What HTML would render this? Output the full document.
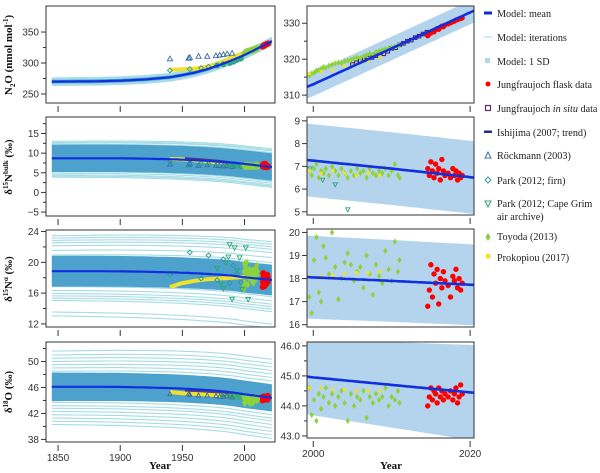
<!DOCTYPE html>
<html><head><meta charset="utf-8">
<style>
body{margin:0;background:#fff;width:600px;height:473px;overflow:hidden}
svg{display:block}
.tk{font-family:"Liberation Sans",sans-serif;font-size:10px;fill:#333}
.ttl{font-family:"Liberation Serif",serif;font-weight:bold;font-size:11px;fill:#111}
.lg{font-family:"Liberation Serif",serif;font-size:10.2px;fill:#222}
</style></head>
<body>
<svg id="fig" width="600" height="473">
<g id="legend">
 <g><rect x="484" y="11.5" width="8" height="3" fill="#1030e0"/><text class="lg" x="497" y="17">Model: mean</text></g>
 <g><rect x="484" y="36.5" width="8" height="1" fill="#9fdbe3"/><text class="lg" x="497" y="41">Model: iterations</text></g>
 <g><rect x="485" y="58" width="5" height="5" fill="#b3d4ec"/><text class="lg" x="497" y="65">Model: 1 SD</text></g>
 <g><circle cx="488" cy="84" r="2.5" fill="#f00"/><text class="lg" x="497" y="88">Jungfraujoch flask data</text></g>
 <g><rect x="485.5" y="105.5" width="5" height="5" fill="none" stroke="#5a2a6e" stroke-width="1.2"/><text class="lg" x="497" y="112">Jungfraujoch <tspan font-style="italic">in situ</tspan> data</text></g>
 <g><rect x="484" y="130.5" width="8" height="2.5" fill="#2a2a8a"/><text class="lg" x="497" y="136">Ishijima (2007; trend)</text></g>
 <g><path d="M488 152 L491 158 L485 158Z" fill="none" stroke="#3a6ea0" stroke-width="1"/><text class="lg" x="497" y="159">Röckmann (2003)</text></g>
 <g><path d="M488 177 L491 180 L488 183 L485 180Z" fill="none" stroke="#2a9a9a" stroke-width="1"/><text class="lg" x="497" y="184">Park (2012; firn)</text></g>
 <g><path d="M485 201 L491 201 L488 207Z" fill="none" stroke="#2aa870" stroke-width="1"/><text class="lg" x="497" y="207">Park (2012; Cape Grim</text><text class="lg" x="497" y="220">air archive)</text></g>
 <g><path d="M488 233 L490.5 237 L488 241 L485.5 237Z" fill="#8cd23c"/><text class="lg" x="497" y="240">Toyoda (2013)</text></g>
 <g><rect x="486" y="254" width="4.5" height="4.5" fill="#f2e12a"/><text class="lg" x="497" y="261">Prokopiou (2017)</text></g>
</g>
</svg>
<script>
// ---- data ----
const meanYears=[1845,1880,1900,1920,1940,1950,1960,1970,1980,1990,2000,2010,2022];
const n2oMean=[270,270.5,271.5,273.5,277,280.5,284.5,290,297,304.5,313,323,335];
const bulkMean=[8.7,8.7,8.68,8.6,8.45,8.35,8.2,8.05,7.85,7.6,7.25,6.9,6.45];
const alphaMean=[18.85,18.85,18.83,18.78,18.7,18.65,18.58,18.5,18.4,18.28,18.05,17.9,17.7];
const o18Mean=[46.1,46.1,46.08,46.0,45.9,45.82,45.72,45.6,45.45,45.25,44.95,44.7,44.4];
const n2oIter=[-6,-5,-4,-3,-2,-1,0,1,2,3,4,5,6];
const bulkIter=[-4.8,-4.5,-4.2,-3.8,-3.4,-2.9,-2.4,-1.8,-1.2,-0.6,0.6,1.2,1.8,2.4,2.9,3.4,3.8,4.0,4.3];
const alphaIter=[-5.8,-5.3,-3.8,-3.5,-3.2,-2.9,-2.5,-2,-1.2,1.5,2.1,2.7,3.3,3.7,4.0,4.3,4.6];
const o18Iter=[-5.8,-5.3,-4.8,-4.3,-3.8,-3.3,-2.9,-2.4,2.4,2.9,3.4,3.9,4.4,4.9,5.5];
const n2oSD=[3,3];const bulkSD=[3.5,3.5];const alphaSD=[2,2];const o18SD=[2.2,2.1];
const bulkSDr=[1.6,1.6];const alphaSDr=[1.8,1.75];const o18SDr=[1.25,1.6];
// Röckmann firn
const rockYears=[1940,1955,1956,1963,1970,1977,1980,1983,1986,1990];
const rockN2O=[307,308,309,311,311,312,313,314,315,316];
const rockBulk=[7.2,7.0,7.4,6.9,7.0,6.9,6.8,6.7,6.8,6.6];
const rockO18=[45.0,45.0,44.9,44.8,44.8,44.7,44.6,44.6,44.7,44.5];
// Park firn
const firnYears=[1940,1956,1965,1971,1978,1983,1988,1991,1994,1997];
const firnN2O=[288,290,292,294,296,298,300,302,305,307];
const firnAlpha=[18.4,21.3,17.9,20.9,17.7,20.4,17.3,19.6,18.5,17.4];
const firnBulk=[7.8,7.6,7.4,7.3,7.2,7.0,6.9,6.8,6.7,6.6];
// Cape Grim
const cgYears=[1978,1981,1983,1985,1987,1988,1990,1992,1994,1996,1998,2001,2003];
const cgAlpha=[19.2,17.2,16.6,19.9,20.7,22.3,15.2,21.9,18.9,20.6,16.5,21.9,15.2];
const cgBulk=[6.9,6.8,6.5,6.6,6.4,6.3,6.2,6.4,6.1,6.5,6.0,5.8,4.7];
// Toyoda (right panels, years 1999-2011)
const toyYears=[1999.5,1999.8,2000.1,2000.4,2000.7,2001.0,2001.3,2001.6,2002.0,2002.4,2002.8,2003.2,2003.6,2004.0,2004.4,2004.8,2005.2,2005.6,2006.0,2006.4,2006.8,2007.2,2007.6,2008.0,2008.4,2008.8,2009.2,2009.6,2010.0,2010.4,2010.8,2011.0];
const toyBulk=[6.8,6.6,6.9,7.1,6.5,6.8,6.7,6.9,6.6,7.0,6.8,6.6,6.9,6.7,6.5,6.8,6.6,6.9,6.7,6.8,6.5,6.9,6.7,6.6,6.8,6.7,6.9,6.6,6.8,7.1,6.6,6.5];
const toyAlpha=[17.2,16.5,18.8,19.8,17.4,17.0,19.4,18.9,18.2,20.0,18.5,17.1,18.0,18.7,19.1,18.6,17.9,18.3,18.5,17.6,19.0,18.2,17.3,18.6,18.1,17.8,19.2,18.4,17.9,19.6,18.3,18.8];
const toyO18=[44.6,43.7,44.2,43.5,44.4,43.9,44.3,44.6,44.1,44.4,44.0,44.3,44.5,44.1,43.5,44.4,44.0,44.3,44.2,44.5,43.6,44.3,44.1,44.4,44.2,44.3,44.6,44.0,44.3,44.2,44.5,44.1];
const toyN2O=[315.5,316,316.2,316.8,317,317.3,317.8,317.6,318.2,318.5,318.8,319,318.9,319.4,319.6,319.8,320.2,320.5,320.3,320.8,321.2,321.5,321.3,322,322.2,322.6,322.8,323,323.2,323.5,323.8,324];
// Jungfraujoch flask (2014-2019)
const flaskYears=[2014.6,2014.8,2015.0,2015.2,2015.4,2015.6,2015.8,2016.0,2016.2,2016.4,2016.6,2016.8,2017.2,2017.5,2017.8,2018.0,2018.2,2018.4,2018.6,2018.8,2019.0];
const flaskN2O=[326.5,327,327.3,327.8,327.6,328.2,328.5,328.3,328.9,329.2,329.0,329.5,329.8,330.1,330.4,330.6,330.9,331,331.2,331.3,331.5];
const flaskBulk=[6.9,6.6,7.2,6.8,6.5,7.1,6.7,6.9,6.4,7.3,6.8,6.6,6.7,6.5,6.9,6.6,6.8,6.4,6.7,6.5,6.6];
const flaskAlpha=[16.8,17.5,18.6,17.2,18.2,17.8,18.4,16.9,18.0,17.6,18.3,17.9,17.7,17.2,18.1,17.9,18.4,17.6,18.0,17.5,17.8];
const flaskO18=[44.0,44.3,44.6,44.2,44.5,44.4,44.1,44.6,44.3,44.5,44.2,44.4,44.3,44.5,44.2,44.4,44.6,44.1,44.3,44.7,44.4];
// Jungfraujoch in situ (2005-2014)
const insituYears=[2005,2005.5,2006,2006.5,2007,2007.5,2008,2008.5,2009,2009.5,2010,2010.5,2011,2011.5,2012,2012.5,2013,2013.5,2014,2014.5];
const insituN2O=[318.5,319,319.5,319.8,320.3,320.5,321,321.8,321.5,322.2,323,323.2,324,324.4,325,325.3,326,326.4,327,327.5];
// Prokopiou (1940-2008)
const prokYears=[1940,1950,1960,1970,1980,1990,1999.5,2001,2002.5,2004,2005.5,2007,2008.5];
const prokN2O=[289,290,291,294,300,309,316,316.5,317,318,318.5,319.5,320.5];
const prokBulk=[8.5,8.4,8.2,7.9,7.6,7.2,6.8,6.7,6.8,6.7,6.6,6.7,6.6];
const prokAlpha=[16.8,17.3,17.6,17.8,17.9,18.0,18.1,18.1,18.15,18.2,18.25,18.25,18.3];
const prokO18=[45.3,45.1,45.0,44.9,44.8,44.7,44.6,44.6,44.55,44.55,44.5,44.5,44.5];
// Ishijima trend
const ishYears=[1952,1965,1980,1990,2000];
const ishBulk=[8.6,8.3,7.9,7.5,7.1];
const ishO18=[45.6,45.5,45.3,45.1,44.9];

// ---- drawing ----
const NS="http://www.w3.org/2000/svg";
const svg=document.getElementById('fig');
function el(tag,attrs,parent){const e=document.createElementNS(NS,tag);for(const k in attrs)e.setAttribute(k,attrs[k]);(parent||svg).appendChild(e);return e;}
function interp(xs,ys,x){if(x<=xs[0])return ys[0]+(ys[1]-ys[0])*(x-xs[0])/(xs[1]-xs[0]);for(let i=1;i<xs.length;i++){if(x<=xs[i])return ys[i-1]+(ys[i]-ys[i-1])*(x-xs[i-1])/(xs[i]-xs[i-1]);}const n=xs.length;return ys[n-1]+(ys[n-1]-ys[n-2])*(x-xs[n-1])/(xs[n-1]-xs[n-2]);}
let clipId=0;
function panel(name,box,xd,yd,ticks,minor){
  const [x0,y0,x1,y1]=box;
  const sx=v=>x0+(v-xd[0])/(xd[1]-xd[0])*(x1-x0);
  const sy=v=>y1-(v-yd[0])/(yd[1]-yd[0])*(y1-y0);
  const g=el('g',{});
  
  
  const cid='c'+(clipId++);
  const cp=el('clipPath',{id:cid},g);el('rect',{x:x0,y:y0,width:x1-x0,height:y1-y0},cp);
  const plot=el('g',{'clip-path':'url(#'+cid+')'},g);
  
  
  return {g,plot,sx,sy,box,ticks,minor,xd,yd};
}
function frame(P,xticks,xlabels){
  const [x0,y0,x1,y1]=P.box;const g=P.g;
  el('rect',{x:x0,y:y0,width:x1-x0,height:y1-y0,fill:'none',stroke:'#333','stroke-width':1},g);
  P.minor.forEach(v=>{const y=P.sy(v);el('line',{x1:x0-3,x2:x0,y1:y,y2:y,stroke:'#333'},g);});
  P.ticks.forEach(t=>{const y=P.sy(t[0]);el('line',{x1:x0-5,x2:x0,y1:y,y2:y,stroke:'#333'},g);const tx=el('text',{x:x0-7,y:y+3.5,'text-anchor':'end',class:'tk'},g);tx.textContent=t[1];
    });
  xticks.forEach((v,i)=>{const x=P.sx(v);el('line',{x1:x,x2:x,y1:y1+3,y2:y1+9,stroke:'#333'},g);if(xlabels){const tx=el('text',{x:x,y:y1+19,'text-anchor':'middle',class:'tk'},g);tx.textContent=xlabels[i];}});
}
function curve(P,fn,xa,xb,attrs){let d='';for(let x=xa;x<=xb+0.01;x+=(xb-xa)/60){d+=(d?'L':'M')+P.sx(x).toFixed(1)+' '+P.sy(fn(x)).toFixed(1);}return el('path',Object.assign({d,fill:'none'},attrs),P.plot);}
function band(P,fn,sdArr,xa,xb,fill){let up='',dn=[];const N=60;for(let i=0;i<=N;i++){const x=xa+(xb-xa)*i/N;const t=i/N;const s=sdArr[0]+(sdArr[1]-sdArr[0])*t;up+=(up?'L':'M')+P.sx(x).toFixed(1)+' '+P.sy(fn(x)+s).toFixed(1);dn.push(P.sx(x).toFixed(1)+' '+P.sy(fn(x)-s).toFixed(1));}
  return el('path',{d:up+'L'+dn.reverse().join('L')+'Z',fill:fill},P.plot);}
function mk(P,type,xs,ys,color,sz){xs.forEach((x,i)=>{const cx=P.sx(x),cy=P.sy(ys[i]);let e;const s=sz||2.6;
  if(type==='tri')e=el('path',{d:`M${cx} ${cy-s} L${cx+s} ${cy+s*0.8} L${cx-s} ${cy+s*0.8}Z`,fill:'none',stroke:color,'stroke-width':0.9},P.plot);
  else if(type==='dtri')e=el('path',{d:`M${cx-s} ${cy-s*0.8} L${cx+s} ${cy-s*0.8} L${cx} ${cy+s}Z`,fill:'none',stroke:color,'stroke-width':0.9},P.plot);
  else if(type==='dia')e=el('path',{d:`M${cx} ${cy-s} L${cx+s} ${cy} L${cx} ${cy+s} L${cx-s} ${cy}Z`,fill:'none',stroke:color,'stroke-width':0.9},P.plot);
  else if(type==='fdia')e=el('path',{d:`M${cx} ${cy-s*1.3} L${cx+s*0.9} ${cy} L${cx} ${cy+s*1.3} L${cx-s*0.9} ${cy}Z`,fill:color},P.plot);
  else if(type==='sq')e=el('rect',{x:cx-s,y:cy-s,width:2*s,height:2*s,fill:'none',stroke:color,'stroke-width':1},P.plot);
  else if(type==='fsq')e=el('rect',{x:cx-s,y:cy-s,width:2*s,height:2*s,fill:color},P.plot);
  else e=el('circle',{cx,cy,r:s,fill:color},P.plot);
  
  
});}
function poly(P,xs,ys,attrs){let d='';xs.forEach((x,i)=>{d+=(i?'L':'M')+P.sx(x).toFixed(1)+' '+P.sy(ys[i]).toFixed(1);});return el('path',Object.assign({d,fill:'none'},attrs),P.plot);}

const LX=[1840.3,2024.5], RX=[1999.2,2020.5];
const leftX=[1850,1900,1950,2000], rightX=[2000,2020];
const cfgs=[
 {mean:n2oMean,iter:n2oIter,sd:n2oSD,sdr:[3.3,3.3],
  L:[[46,6,275,103],[235.5,392],[[250,'250'],[300,'300'],[350,'350']],[275,325]],
  R:[[307,6,474,103],[307.8,334.8],[[310,'310'],[320,'320'],[330,'330']],[315,325]]},
 {mean:bulkMean,iter:bulkIter,sd:bulkSD,sdr:bulkSDr,
  L:[[46,117,275,216],[-6.0,19.2],[[-5,'−5'],[0,'0'],[5,'5'],[10,'10'],[15,'15']],[-2.5,2.5,7.5,12.5,17.5]],
  R:[[307,117,474,215],[4.86,9.17],[[5,'5'],[6,'6'],[7,'7'],[8,'8'],[9,'9']],[]]},
 {mean:alphaMean,iter:alphaIter,sd:alphaSD,sdr:alphaSDr,
  L:[[46,230,275,327],[11.6,24.2],[[12,'12'],[16,'16'],[20,'20'],[24,'24']],[14,18,22]],
  R:[[307,229,474,327],[15.9,20.15],[[16,'16'],[17,'17'],[18,'18'],[19,'19'],[20,'20']],[]]},
 {mean:o18Mean,iter:o18Iter,sd:o18SD,sdr:o18SDr,
  L:[[46,342,275,442],[37.6,53.0],[[38,'38'],[42,'42'],[46,'46'],[50,'50']],[40,44,48,52]],
  R:[[307,342,474,438],[42.93,46.13],[[43,'43.0'],[44,'44.0'],[45,'45.0'],[46,'46.0']],[43.5,44.5,45.5]]}
];
const names=['n2o','d15n-bulk','d15n-alpha','d18o'];
const panels=[];
cfgs.forEach((c,i)=>{
  const fn=x=>interp(meanYears,c.mean,x);
  const PL=panel('left-panel-'+names[i],c.L[0],LX,c.L[1],c.L[2],c.L[3]);
  const PR=panel('right-panel-'+names[i],c.R[0],RX,c.R[1],c.R[2],c.R[3]);
  c.iter.forEach(o=>{const l=curve(PL,x=>fn(x)+o*(1+0.08*(x-1845)/175),1845,2022,{stroke:'#a5dce5','stroke-width':1.1});});
  band(PL,fn,c.sd,1845,2022,'#4da2cd');
  const rb=band(PR,fn,c.sdr,1999,2021,'#b3d4ec');
  panels.push({PL,PR,fn});
});
// N2O data
let A=panels[0];
poly(A.PL,prokYears,prokN2O,{stroke:'#f2e12a','stroke-width':4});
mk(A.PL,'circ',firnYears.slice(4),firnN2O.slice(4),'#3cb070',3);
mk(A.PL,'fdia',toyYears,toyN2O,'#8cd23c',3);
mk(A.PL,'tri',rockYears,rockN2O,'#3a6ea0',2.6);
mk(A.PL,'dia',firnYears,firnN2O,'#2a9a9a',2.4);
mk(A.PL,'circ',flaskYears,flaskN2O,'#f00',3);
mk(A.PR,'sq',insituYears,insituN2O,'#4a1f5e',1.8);
mk(A.PR,'fdia',toyYears,toyN2O,'#8cd23c',2.4);
mk(A.PR,'fsq',prokYears.slice(6),prokN2O.slice(6),'#f2e12a',1.6);
mk(A.PR,'circ',flaskYears,flaskN2O,'#f00',2.6);
// bulk
A=panels[1];
poly(A.PL,prokYears,prokBulk,{stroke:'#f2e12a','stroke-width':4});
poly(A.PL,ishYears,ishBulk,{stroke:'#5a3a7a','stroke-width':3});
mk(A.PL,'circ',firnYears.slice(6),firnBulk.slice(6),'#3cb070',2.8);
mk(A.PL,'tri',rockYears,rockBulk,'#3a6ea0',2.4);
mk(A.PL,'dia',firnYears,firnBulk,'#2a9a9a',2.3);
mk(A.PL,'fdia',toyYears,toyBulk,'#8cd23c',2.8);
mk(A.PL,'circ',flaskYears,flaskBulk,'#f00',3);
mk(A.PR,'dtri',cgYears.slice(-4).map((v,i)=>1999.6+i*1.6),cgBulk.slice(-4).map(v=>v+0.4),'#2aa870',2.2);
mk(A.PR,'fdia',toyYears,toyBulk,'#8cd23c',2.4);
mk(A.PR,'fsq',prokYears.slice(6),prokBulk.slice(6),'#f2e12a',1.6);
mk(A.PR,'circ',flaskYears,flaskBulk,'#f00',2.7);
// alpha
A=panels[2];
poly(A.PL,prokYears,prokAlpha,{stroke:'#f2e12a','stroke-width':4});
mk(A.PL,'fdia',toyYears.map(v=>v-0.5),toyAlpha,'#8cd23c',2.8);
mk(A.PL,'dia',firnYears,firnAlpha,'#2a9a9a',2.4);
mk(A.PL,'dtri',cgYears,cgAlpha,'#2aa870',2.4);
mk(A.PL,'circ',flaskYears,flaskAlpha,'#f00',3);
mk(A.PR,'fdia',toyYears,toyAlpha,'#8cd23c',2.4);
mk(A.PR,'fsq',prokYears.slice(6),prokAlpha.slice(6),'#f2e12a',1.6);
mk(A.PR,'circ',flaskYears,flaskAlpha,'#f00',2.7);
// o18
A=panels[3];
poly(A.PL,prokYears,prokO18,{stroke:'#f2e12a','stroke-width':4});
poly(A.PL,ishYears,ishO18,{stroke:'#5a3a7a','stroke-width':3});
mk(A.PL,'circ',firnYears.slice(5),rockO18.slice(5),'#3cb070',3);
mk(A.PL,'tri',rockYears,rockO18,'#3a6ea0',2.2);
mk(A.PL,'fdia',toyYears,toyO18,'#8cd23c',2.8);
mk(A.PL,'circ',flaskYears,flaskO18,'#f00',3);
mk(A.PR,'fdia',toyYears,toyO18,'#8cd23c',2.4);
mk(A.PR,'fsq',prokYears.slice(6),prokO18.slice(6),'#f2e12a',1.6);
mk(A.PR,'circ',flaskYears,flaskO18,'#f00',2.7);
// means + frames
panels.forEach((p,i)=>{
  const ml=curve(p.PL,p.fn,1845,2022,{stroke:'#1030e0','stroke-width':2.2});
  const mr=curve(p.PR,p.fn,1999,2021,{stroke:'#1030e0','stroke-width':2.6});
  frame(p.PL,leftX,i===3?['1850','1900','1950','2000']:null);
  frame(p.PR,rightX,i===3?['2000','2020']:null);
});
function ttl(x,y,html,name){const t=el('text',{x:0,y:0,class:'ttl','text-anchor':'middle',transform:`translate(${x},${y}) rotate(-90)`});t.innerHTML=html;}
ttl(12,55,'N<tspan dy="3" font-size="7">2</tspan><tspan dy="-3">O (nmol mol</tspan><tspan dy="-4" font-size="7">-1</tspan><tspan dy="4">)</tspan>','y-axis-title-n2o');
ttl(12,167,'δ<tspan dy="-4" font-size="7">15</tspan><tspan dy="4">N</tspan><tspan dy="-4" font-size="7">bulk</tspan><tspan dy="4"> (‰)</tspan>','y-axis-title-d15n-bulk');
ttl(12,279,'δ<tspan dy="-4" font-size="7">15</tspan><tspan dy="4">N</tspan><tspan dy="-4" font-size="7">α</tspan><tspan dy="4"> (‰)</tspan>','y-axis-title-d15n-alpha');
ttl(12,392,'δ<tspan dy="-4" font-size="7">18</tspan><tspan dy="4">O (‰)</tspan>','y-axis-title-d18o');
const xt1=el('text',{x:160,y:469,class:'ttl','text-anchor':'middle'});xt1.textContent='Year';


const xt2=el('text',{x:391,y:469,class:'ttl','text-anchor':'middle'});xt2.textContent='Year';


svg.appendChild(document.getElementById('legend'));
</script>
</body></html>
